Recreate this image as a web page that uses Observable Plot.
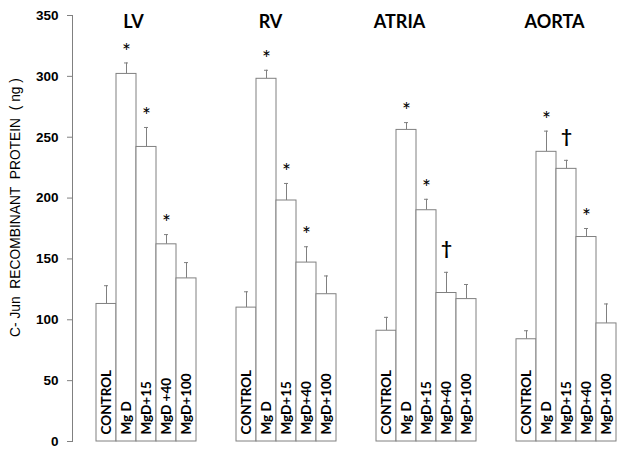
<!DOCTYPE html>
<html>
<head>
<meta charset="utf-8">
<script src="https://cdn.jsdelivr.net/npm/d3@7"></script>
<script src="https://cdn.jsdelivr.net/npm/@observablehq/plot@0.6"></script>
<style>
  html, body { margin: 0; padding: 0; background: #fff; }
  svg text { white-space: pre; }
</style>
</head>
<body>
<div id="chart"></div>
<script>
const organs = ["LV", "RV", "ATRIA", "AORTA"];
const groups = ["CONTROL", "Mg D", "MgD+15", "MgD+40", "MgD+100"];
const lvLabels = ["CONTROL", "Mg D", "MgD+15", "MgD +40", "MgD+100"];
const otherLabels = ["CONTROL", "Mg D", "MgD+15", "MgD+40", "MgD+100"];

const lvMean = [113, 302, 242, 162, 134];
const lvErr = [15, 9, 16, 8, 13];
const rvMean = [110, 298, 198, 147, 121];
const rvErr = [13, 7, 14, 13, 15];
const atriaMean = [91, 256, 190, 122, 117];
const atriaErr = [11, 6, 9, 17, 12];
const aortaMean = [84, 238, 224, 168, 97];
const aortaErr = [7, 17, 7, 7, 16];

const lvSig = ["", "*", "*", "*", ""];
const rvSig = ["", "*", "*", "*", ""];
const atriaSig = ["", "*", "*", "†", ""];
const aortaSig = ["", "*", "†", "*", ""];

const yTicks = [0, 50, 100, 150, 200, 250, 300, 350];
const yLabel = "C- Jun  RECOMBINANT  PROTEIN  ( ng )";

const means = [lvMean, rvMean, atriaMean, aortaMean];
const errs = [lvErr, rvErr, atriaErr, aortaErr];
const sigs = [lvSig, rvSig, atriaSig, aortaSig];
const labels = [lvLabels, otherLabels, otherLabels, otherLabels];

const rows = organs.flatMap((o, i) => groups.map((g, j) => ({
  key: o + "|" + g,
  organ: o,
  label: labels[i][j],
  mean: means[i][j],
  top: means[i][j] + errs[i][j],
  sig: sigs[i][j]
})));

const domain = organs.flatMap((o, i) => [
  ...(i ? ["gap" + i + "a", "gap" + i + "b"] : []),
  ...groups.map(g => o + "|" + g)
]);

const titles = organs.map(o => ({organ: o, key: o + "|Mg D"}));
const titleDx = {LV: 7, RV: 4, ATRIA: -7, AORTA: 8};

const gray = "#808080";
const calibri = "Lato, 'Open Sans', sans-serif";

const chart = Plot.plot({
  width: 627,
  height: 449,
  marginLeft: 72,
  marginRight: 0,
  marginTop: 15,
  marginBottom: 8,
  style: {fontFamily: "'Liberation Sans', Arial, sans-serif", background: "#fff"},
  x: {domain, range: [87.3, 624.3], padding: 0, axis: null},
  y: {domain: [0, 350], ticks: yTicks, axis: null},
  marks: [
    Plot.frame({anchor: "left", stroke: gray}),
    Plot.axisY({ticks: yTicks, tickSize: 5, tickPadding: 9, stroke: gray, fontSize: 13.5, fontWeight: "bold", fill: "#000", label: null}),
    Plot.text([yLabel], {frameAnchor: "left", textAnchor: "middle", dx: -57, dy: -21, rotate: -90, fontSize: 13.8, fill: "#000"}),
    Plot.ruleX(rows, {x: "key", y1: "mean", y2: "top", stroke: gray, strokeWidth: 1}),
    Plot.tickY(rows, {x: "key", y: "top", stroke: gray, insetLeft: 8, insetRight: 8}),
    Plot.barY(rows, {x: "key", y: "mean", fill: "#fff", stroke: gray, strokeWidth: 1}),
    Plot.text(rows, {x: "key", y: 0, text: "label", rotate: -90, textAnchor: "start", lineAnchor: "middle", dy: -7, fontSize: 13.5, fontWeight: "bold", fontFamily: calibri, fill: "#000"}),
    Plot.text(rows.filter(d => d.sig === "*"), {x: "key", y: "top", text: "sig", lineAnchor: "middle", dy: -11, fontSize: 21, fontFamily: calibri, fill: "#000"}),
    Plot.text(rows.filter(d => d.sig === "†"), {x: "key", y: "top", text: "sig", lineAnchor: "middle", dy: -23, fontSize: 19, fontWeight: "bold", fontFamily: calibri, fill: "#000"}),
    ...titles.map(t => Plot.text([t], {x: "key", frameAnchor: "top", text: "organ", dx: titleDx[t.organ], dy: 0, lineAnchor: "top", fontSize: 18, fontWeight: "bold", fontFamily: calibri, fill: "#000"}))
  ]
});
document.getElementById("chart").appendChild(chart);
</script>
</body>
</html>
